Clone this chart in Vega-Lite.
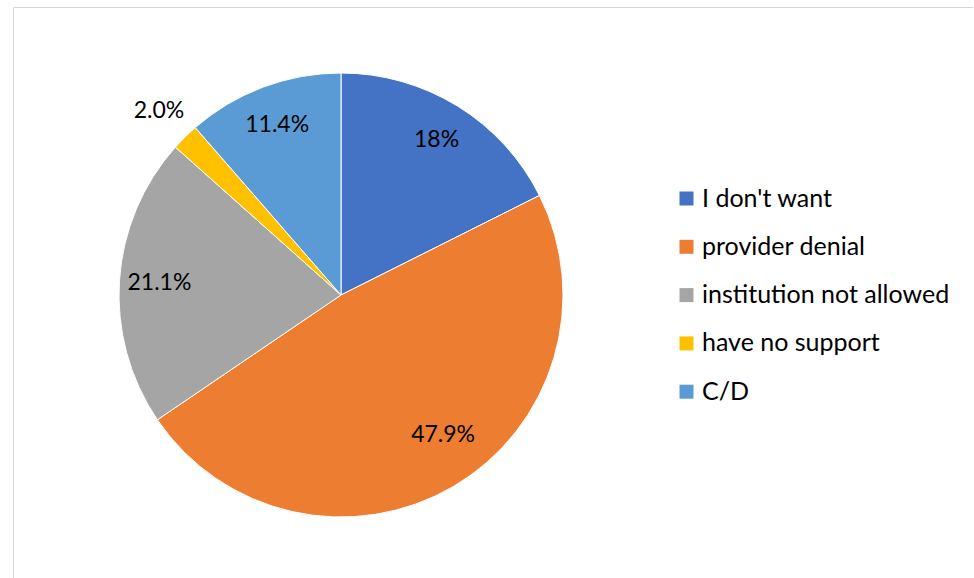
{
  "$schema": "https://vega.github.io/schema/vega-lite/v6.json",
  "width": 960,
  "height": 600,
  "autosize": {"type": "none"},
  "padding": {"left": 13, "top": 7, "right": 0, "bottom": 0},
  "background": "white",
  "view": {"stroke": "#d4d4d4", "strokeWidth": 1, "fill": "white"},
  "config": {
    "font": "Lato"
  },
  "data": {
    "values": [
      {"idx": 1, "category": "I don't want", "value": 17.6, "label": "18%"},
      {"idx": 2, "category": "provider denial", "value": 47.9, "label": "47.9%"},
      {"idx": 3, "category": "institution not allowed", "value": 21.1, "label": "21.1%"},
      {"idx": 4, "category": "have no support", "value": 2.0, "label": "2.0%"},
      {"idx": 5, "category": "C/D", "value": 11.4, "label": "11.4%"}
    ]
  },
  "encoding": {
    "theta": {"field": "value", "type": "quantitative", "stack": true},
    "order": {"field": "idx", "type": "quantitative"}
  },
  "layer": [
    {
      "mark": {"type": "arc", "outerRadius": 222, "x": 328, "y": 288, "stroke": "white", "strokeWidth": 1},
      "encoding": {
        "color": {
          "field": "category",
          "type": "nominal",
          "sort": ["I don't want", "provider denial", "institution not allowed", "have no support", "C/D"],
          "scale": {
            "domain": ["I don't want", "provider denial", "institution not allowed", "have no support", "C/D"],
            "range": ["#4472C4", "#ED7D31", "#A5A5A5", "#FFC000", "#5B9BD5"]
          },
          "legend": {
            "title": null,
            "orient": "none",
            "legendX": 661,
            "legendY": 179,
            "symbolType": "square",
            "symbolSize": 196,
            "symbolStrokeWidth": 0,
            "labelFontSize": 25,
            "labelFont": "Lato",
            "labelColor": "#000000",
            "labelOffset": 3,
            "rowPadding": 22.3,
            "labelLimit": 400
          }
        }
      }
    },
    {
      "mark": {
        "type": "text",
        "x": 328,
        "y": 288,
        "radius": {"expr": "datum.category == 'have no support' ? 259 : (datum.category == 'provider denial' ? 176 : 182)"},
        "dx": {"expr": "datum.category == 'provider denial' ? 13 : 0"},
        "dy": {"expr": "datum.category == 'provider denial' ? -12 : 0"},
        "fontSize": 23,
        "font": "Lato",
        "color": "#000000"
      },
      "encoding": {
        "text": {"field": "label"}
      }
    }
  ]
}
